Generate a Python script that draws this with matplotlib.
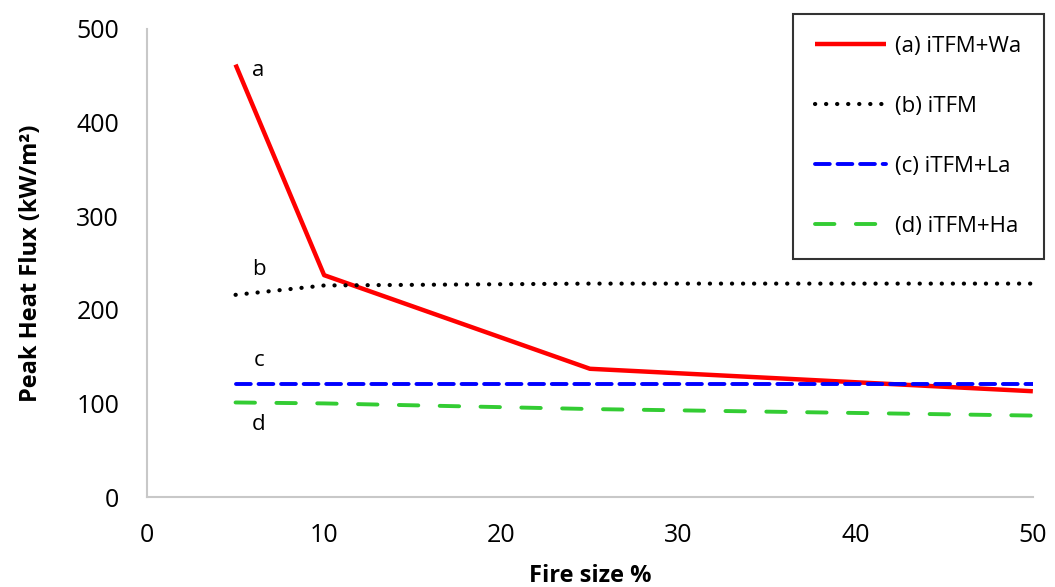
import matplotlib
matplotlib.use("Agg")
import matplotlib.pyplot as plt

# valeurs
fire_size = [5, 10, 25, 50]
itfm_wa = [462, 237, 137, 113]
itfm = [216, 226, 228, 228]
itfm_la = [121, 121, 121, 121]
itfm_ha = [101, 100, 94, 87]

series_labels = ["(a) iTFM+Wa", "(b) iTFM", "(c) iTFM+La", "(d) iTFM+Ha"]
curve_tags = ["a", "b", "c", "d"]
tag_y = [456, 243, 146, 77]

plt.rcParams['font.family'] = ['Open Sans', 'DejaVu Sans']

fig = plt.figure(figsize=(10.55, 5.87), dpi=100)
ax = fig.add_axes([0.1393, 0.1533, 0.8397, 0.7973])

l1, = ax.plot(fire_size, itfm_wa, color="#ff0000", lw=3.2, solid_capstyle="butt")
l2, = ax.plot(fire_size, itfm, color="black", lw=3, linestyle=(0, (0.05, 2.6)),
              dash_capstyle="round")
l3, = ax.plot(fire_size, itfm_la, color="#0000ff", lw=2.8, linestyle=(0, (3.8, 2.0)),
              dash_capstyle="round")
l4, = ax.plot(fire_size, itfm_ha, color="#33cc33", lw=2.8, linestyle=(0, (5.0, 5.5)),
              dash_capstyle="round")

for tag, y in zip(curve_tags, tag_y):
    ax.text(6.3, y, tag, fontsize=16, ha="center", va="center")

ax.set_xlim(0, 50)
ax.set_ylim(0, 500)
ax.set_xticks(range(0, 51, 10))
ax.set_yticks(range(0, 501, 100))
ax.tick_params(axis="y", length=0, labelsize=18, pad=20)
ax.tick_params(axis="x", length=0, labelsize=18, pad=19)
for side in ["top", "right"]:
    ax.spines[side].set_visible(False)
for side in ["left", "bottom"]:
    ax.spines[side].set_color("#c8c8c8")
    ax.spines[side].set_linewidth(1.5)

ax.set_xlabel("Fire size %", fontsize=17, fontweight="bold", labelpad=11)
ax.set_ylabel("Peak Heat Flux (kW/m²)", fontsize=17, fontweight="bold", labelpad=24)

leg = fig.legend([l1, l2, l3, l4], series_labels, loc="upper left",
                 bbox_to_anchor=(793 / 1055, 1 - 14 / 587), fontsize=16,
                 frameon=True, fancybox=False, edgecolor="black",
                 handlelength=3.2, handletextpad=0.4, labelspacing=1.75,
                 borderpad=1.0, borderaxespad=0)
leg.get_frame().set_linewidth(1.5)

plt.savefig("out.png", dpi=100)
